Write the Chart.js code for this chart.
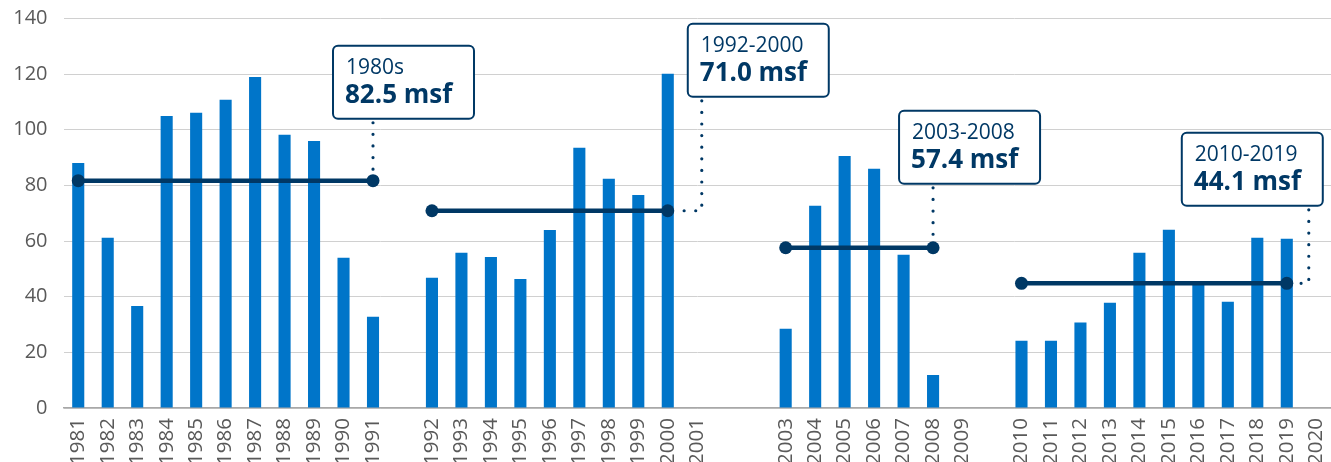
<!DOCTYPE html>
<html><head><meta charset="utf-8">
<script src="https://cdn.jsdelivr.net/npm/chart.js@4"></script>
<style>html,body{margin:0;padding:0;background:#fff}#wrap{width:1331px;height:462px;position:relative}</style>
</head><body><div id="wrap"><canvas id="c"></canvas></div>
<script>
// ---- data ----
const categories = ['1981','1982','1983','1984','1985','1986','1987','1988','1989','1990','1991','',
  '1992','1993','1994','1995','1996','1997','1998','1999','2000','2001','','',
  '2003','2004','2005','2006','2007','2008','2009','',
  '2010','2011','2012','2013','2014','2015','2016','2017','2018','2019','2020'];
const values = [88.1,61.2,36.7,105.0,106.1,110.8,119.0,98.2,96.0,54.0,32.8,null,
  46.8,55.8,54.3,46.4,64.0,93.5,82.4,76.6,120.1,null,null,null,
  28.5,72.7,90.6,86.0,55.1,11.9,null,null,
  24.2,24.2,30.7,37.8,55.8,64.1,44.5,38.2,61.2,60.8,null];
const yTicks = [0,20,40,60,80,100,120,140];
const periodNames = ['1980s','1992-2000','2003-2008','2010-2019'];
const periodText = ['82.5 msf','71.0 msf','57.4 msf','44.1 msf'];
const periodStart = ['1981','1992','2003','2010'];
const periodEnd = ['1991','2000','2008','2019'];
const periodLevel = [81.7, 70.9, 57.6, 44.8];
const boxTopValue = [130.2, 138.1, 106.8, 98.9];

// ---- styles / layout of callouts ----
const NAVY = '#003865', BLUE = '#0075C9', TICK = '#595959';
const calloutLayout = [
  {leaderDx: 0,  boxDx: -40},
  {leaderDx: 34, boxDx: -14},
  {leaderDx: 0,  boxDx: -34},
  {leaderDx: 22, boxDx: -127}
];
const BOX_W = 141, BOX_H = 73;

const lineDatasets = periodNames.map((n, i) => ({
  type: 'line',
  label: n,
  data: [{x: periodStart[i], y: periodLevel[i]}, {x: periodEnd[i], y: periodLevel[i]}],
  borderColor: NAVY, borderWidth: 4.5,
  pointRadius: 6.5, pointBackgroundColor: NAVY, pointBorderWidth: 0,
  order: 0
}));

const callouts = {
  id: 'callouts',
  afterDatasetsDraw(chart) {
    const ctx = chart.ctx, xs = chart.scales.x, ys = chart.scales.y;
    periodNames.forEach((name, i) => {
      const L = calloutLayout[i];
      const xe = xs.getPixelForValue(categories.indexOf(periodEnd[i]));
      const yl = ys.getPixelForValue(periodLevel[i]);
      const lx = xe + L.leaderDx;
      const bx = lx + L.boxDx;
      const by = ys.getPixelForValue(boxTopValue[i]);
      // leader
      ctx.save();
      ctx.strokeStyle = NAVY; ctx.lineWidth = 3.2; ctx.lineCap = 'round';
      ctx.setLineDash([0, 11.6]);
      ctx.beginPath();
      ctx.moveTo(lx, by + BOX_H + 4);
      ctx.lineTo(lx, yl);
      if (L.leaderDx > 0) ctx.lineTo(xe + 12, yl);
      ctx.stroke();
      ctx.restore();
      // box
      ctx.save();
      ctx.fillStyle = '#fff'; ctx.strokeStyle = NAVY; ctx.lineWidth = 2;
      ctx.beginPath();
      ctx.roundRect(bx, by, BOX_W, BOX_H, 5);
      ctx.fill(); ctx.stroke();
      ctx.fillStyle = NAVY; ctx.textAlign = 'left'; ctx.textBaseline = 'alphabetic';
      ctx.font = '400 21px "Open Sans"';
      ctx.fillText(name, bx + 13, by + 28);
      ctx.font = '700 26px "Open Sans"';
      ctx.fillText(periodText[i], bx + 12, by + 57);
      ctx.restore();
    });
  }
};

new Chart(document.getElementById('c'), {
  data: {
    labels: categories,
    datasets: [
      {type: 'bar', label: 'msf', data: values, backgroundColor: BLUE,
       categoryPercentage: 1, barPercentage: 0.41, order: 1},
      ...lineDatasets
    ]
  },
  options: {
    responsive: true, maintainAspectRatio: false, animation: false,
    layout: {autoPadding: false, padding: {top: 18.5, left: 0, right: 0, bottom: 0}},
    plugins: {legend: {display: false}, tooltip: {enabled: false}},
    scales: {
      x: {
        type: 'category', offset: true,
        grid: {display: false, drawTicks: false},
        border: {display: true, color: '#a8a8a8', width: 1.5},
        ticks: {autoSkip: false, minRotation: 90, maxRotation: 90, padding: 10,
                color: TICK, font: {family: 'Open Sans', size: 20.5}},
        afterFit: s => { s.height = 54; s.paddingLeft = 0; s.paddingRight = 0; }
      },
      y: {
        min: 0, max: 140,
        afterBuildTicks: s => { s.ticks = yTicks.map(v => ({value: v})); },
        grid: {color: '#d0d0d0', lineWidth: 1, drawTicks: false},
        border: {display: false},
        ticks: {padding: 16, color: TICK, font: {family: 'Open Sans', size: 20}},
        afterFit: s => { s.width = 63.5; s.paddingTop = 0; s.paddingBottom = 0; }
      }
    }
  },
  plugins: [callouts]
});
</script></body></html>
